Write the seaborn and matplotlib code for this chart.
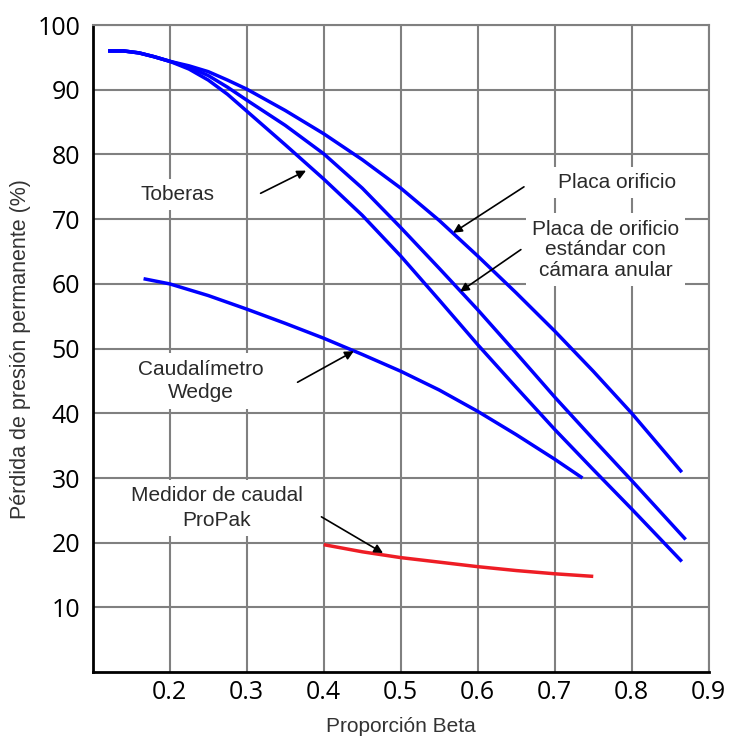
import numpy as np
import pandas as pd
import matplotlib
matplotlib.use("Agg")
import matplotlib.pyplot as plt
import seaborn as sns

# values
x_placa = [0.12, 0.14, 0.16, 0.18, 0.20, 0.225, 0.25, 0.275, 0.30, 0.35, 0.40, 0.45, 0.50, 0.55, 0.60, 0.65, 0.70, 0.75, 0.80, 0.865]
y_placa = [96.0, 96.0, 95.7, 95.1, 94.4, 93.7, 92.8, 91.5, 90.1, 86.8, 83.2, 79.2, 74.8, 69.8, 64.3, 58.6, 52.7, 46.5, 40.0, 30.9]

x_anular = [0.12, 0.14, 0.16, 0.18, 0.20, 0.225, 0.25, 0.275, 0.30, 0.35, 0.40, 0.45, 0.50, 0.55, 0.60, 0.65, 0.70, 0.75, 0.80, 0.87]
y_anular = [96.0, 96.0, 95.7, 95.1, 94.4, 93.5, 92.2, 90.4, 88.4, 84.5, 80.1, 74.8, 68.7, 62.4, 56.0, 49.3, 42.5, 36.0, 29.6, 20.5]

x_toberas = [0.12, 0.14, 0.16, 0.18, 0.20, 0.225, 0.25, 0.275, 0.30, 0.35, 0.40, 0.45, 0.50, 0.55, 0.60, 0.65, 0.70, 0.75, 0.80, 0.865]
y_toberas = [96.0, 96.0, 95.7, 95.1, 94.4, 93.2, 91.5, 89.3, 86.7, 81.5, 76.2, 70.6, 64.3, 57.5, 50.6, 44.0, 37.5, 31.3, 25.2, 17.1]

x_wedge = [0.166, 0.20, 0.25, 0.30, 0.35, 0.40, 0.45, 0.50, 0.55, 0.60, 0.65, 0.70, 0.736]
y_wedge = [60.8, 60.0, 58.2, 56.1, 53.9, 51.6, 49.1, 46.5, 43.6, 40.3, 36.7, 32.9, 30.0]

x_propak = [0.40, 0.45, 0.50, 0.55, 0.60, 0.65, 0.70, 0.75]
y_propak = [19.7, 18.6, 17.7, 17.0, 16.3, 15.7, 15.2, 14.8]

x_ticks = [0.2, 0.3, 0.4, 0.5, 0.6, 0.7, 0.8, 0.9]
y_ticks = [10, 20, 30, 40, 50, 60, 70, 80, 90, 100]

BLUE = "#0000ff"
RED = "#ee1d25"
GRID = "#808080"
TXT = "#2a2a2a"

sns.set_theme(style="white")
plt.rcParams["font.family"] = ["Liberation Sans", "DejaVu Sans"]

fig = plt.figure(figsize=(7.36, 7.37), dpi=100)
ax = fig.add_axes([0.126, 0.088, 0.837, 0.878])

curves = [
    (x_placa, y_placa, BLUE),
    (x_anular, y_anular, BLUE),
    (x_toberas, y_toberas, BLUE),
    (x_wedge, y_wedge, BLUE),
    (x_propak, y_propak, RED),
]
for xs, ys, col in curves:
    df = pd.DataFrame({"beta": xs, "perdida": ys})
    sns.lineplot(data=df, x="beta", y="perdida", color=col, lw=2.5, sort=False,
                 ax=ax, solid_capstyle="butt", solid_joinstyle="round", zorder=3)

ax.set_xlim(0.1, 0.9)
ax.set_ylim(0, 100)
ax.set_xticks(x_ticks)
ax.set_yticks(y_ticks)
ax.set_xticklabels([f"{v:.1f}" for v in x_ticks])
ax.set_yticklabels([str(v) for v in y_ticks])
ax.grid(True, color=GRID, lw=1.5, zorder=0)
ax.set_axisbelow(True)
ax.tick_params(axis="both", length=0, labelsize=18)
ax.tick_params(axis="x", pad=6)
ax.tick_params(axis="y", pad=9)
for lab in ax.get_xticklabels() + ax.get_yticklabels():
    lab.set_fontfamily("Open Sans")
    lab.set_color("black")

for side in ["top", "right"]:
    ax.spines[side].set_color(GRID)
    ax.spines[side].set_linewidth(1.5)
for side in ["left", "bottom"]:
    ax.spines[side].set_color("black")
    ax.spines[side].set_linewidth(2)

ax.set_xlabel("Proporción Beta", fontsize=15, color="#333333")
ax.set_ylabel("Pérdida de presión permanente (%)", fontsize=15.5, color="#333333")
ax.xaxis.set_label_coords(0.5, -0.070)
ax.yaxis.set_label_coords(-0.100, 0.5)

box = dict(boxstyle="square,pad=0.3", fc="white", ec="none")
arrow = dict(arrowstyle="-|>", color="black", lw=1.2, mutation_scale=13, shrinkA=0, shrinkB=0)

notes = [
    ("Toberas", (0.210, 73.8), (0.318, 74.0), (0.377, 77.5), 1.2),
    ("Placa orificio", (0.781, 75.7), (0.660, 75.0), (0.568, 67.9), 1.2),
    ("Placa de orificio\nestándar con\ncámara anular", (0.766, 65.3), (0.656, 65.3), (0.577, 58.8), 1.1),
    ("Caudalímetro\nWedge", (0.241, 45.0), (0.366, 44.8), (0.439, 49.6), 1.32),
    ("Medidor de caudal\nProPak", (0.261, 25.4), (0.397, 24.0), (0.477, 18.4), 1.38),
]
for txt, pos, tail, head, ls in notes:
    ax.text(pos[0], pos[1], txt, ha="center", va="center", fontsize=15, color=TXT,
            linespacing=ls, bbox=box, zorder=4)
    ax.annotate("", xy=head, xytext=tail, arrowprops=arrow, zorder=5)

fig.savefig("out.png", dpi=100)
